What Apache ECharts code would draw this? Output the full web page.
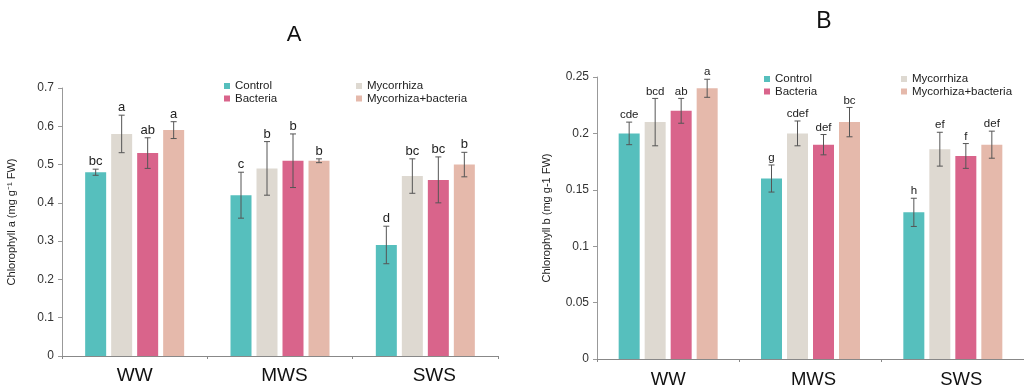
<!DOCTYPE html>
<html>
<head>
<meta charset="utf-8">
<script src="https://cdn.jsdelivr.net/npm/echarts@6/dist/echarts.min.js"></script>
<style>html,body{margin:0;padding:0;background:#fff;}#c{width:1024px;height:389px;}</style>
</head>
<body>
<div id="c"></div>
<script>
const categories = ['WW', 'MWS', 'SWS'];
const seriesNames = ['Control', 'Mycorrhiza', 'Bacteria', 'Mycorhiza+bacteria'];
const colors = ['#56bfbd', '#ded9d1', '#d9648b', '#e5b9ab'];

// Chart A: Chlorophyll a
const aControl = [0.48, 0.42, 0.29];
const aMyco = [0.58, 0.49, 0.47];
const aBact = [0.53, 0.51, 0.46];
const aMycoBact = [0.59, 0.51, 0.50];
const aControlErr = [0.008, 0.06, 0.049];
const aMycoErr = [0.049, 0.07, 0.045];
const aBactErr = [0.04, 0.07, 0.06];
const aMycoBactErr = [0.022, 0.005, 0.032];
const aControlLbl = ['bc', 'c', 'd'];
const aMycoLbl = ['a', 'b', 'bc'];
const aBactLbl = ['ab', 'b', 'bc'];
const aMycoBactLbl = ['a', 'b', 'b'];
const aTicks = ['0', '0.1', '0.2', '0.3', '0.4', '0.5', '0.6', '0.7'];

// Chart B: Chlorophyll b
const bControl = [0.20, 0.16, 0.13];
const bMyco = [0.21, 0.20, 0.186];
const bBact = [0.22, 0.19, 0.18];
const bMycoBact = [0.24, 0.21, 0.19];
const bControlErr = [0.010, 0.012, 0.0125];
const bMycoErr = [0.021, 0.011, 0.015];
const bBactErr = [0.011, 0.009, 0.011];
const bMycoBactErr = [0.008, 0.013, 0.012];
const bControlLbl = ['cde', 'g', 'h'];
const bMycoLbl = ['bcd', 'cdef', 'ef'];
const bBactLbl = ['ab', 'def', 'f'];
const bMycoBactLbl = ['a', 'bc', 'def'];
const bTicks = ['0', '0.05', '0.1', '0.15', '0.2', '0.25'];

const FONT = '"Liberation Sans", Arial, sans-serif';
const BW = 21, GAP = 5;

function barSeries(name, vals, idx, ax) {
  return {
    name: name, type: 'bar', xAxisIndex: ax, yAxisIndex: ax,
    data: vals, barWidth: BW, barGap: (GAP / BW * 100) + '%',
    itemStyle: { color: colors[idx] }, z: 2
  };
}
function errSeries(vals, errs, lbls, idx, ax, fs) {
  return {
    type: 'custom', xAxisIndex: ax, yAxisIndex: ax, z: 10,
    data: vals.map((v, i) => [i, v, errs[i]]),
    renderItem: function (params, api) {
      const i = api.value(0), v = api.value(1), e = api.value(2);
      const c = api.coord([i, v]);
      const x = c[0] + (idx - 1.5) * (BW + GAP);
      const yt = api.coord([i, v + e])[1];
      const yb = api.coord([i, v - e])[1];
      const st = { stroke: '#555', lineWidth: 1 };
      return {
        type: 'group', children: [
          { type: 'line', shape: { x1: x, y1: yt, x2: x, y2: yb }, style: st },
          { type: 'line', shape: { x1: x - 3, y1: yt, x2: x + 3, y2: yt }, style: st },
          { type: 'line', shape: { x1: x - 3, y1: yb, x2: x + 3, y2: yb }, style: st },
          { type: 'text', x: x, y: yt - 1, style: { text: lbls[params.dataIndex], fill: '#222', font: fs + 'px ' + FONT, textAlign: 'center', textVerticalAlign: 'bottom' } }
        ]
      };
    }
  };
}
function legend(names, left, top) {
  return {
    data: names, orient: 'vertical', left: left, top: top,
    icon: 'rect', itemWidth: 6, itemHeight: 6, itemGap: 0.5, padding: 0,
    textStyle: { fontSize: 11.5, color: '#222', fontFamily: FONT, lineHeight: 12 }
  };
}
function xAxis(grid, fs, margin, shifts) {
  const rich = {};
  categories.forEach((c, i) => {
    rich['c' + i] = { fontSize: fs, color: '#111', fontFamily: FONT, padding: [0, 0, 0, shifts[i] * 2] };
  });
  return {
    type: 'category', gridIndex: grid, data: categories,
    axisLine: { lineStyle: { color: '#888' } },
    axisTick: { show: true, length: 3, lineStyle: { color: '#888' } },
    axisLabel: {
      fontSize: fs, color: '#111', fontFamily: FONT, margin: margin, rich: rich,
      formatter: function (v, i) { return '{c' + i + '|' + v + '}'; }
    }
  };
}
function yAxis(grid, max, interval, ticks, name) {
  return {
    type: 'value', gridIndex: grid, min: 0, max: max, interval: interval,
    name: name, nameLocation: 'middle', nameGap: 45,
    nameTextStyle: { fontSize: 11, color: '#222', fontFamily: FONT },
    splitLine: { show: false },
    axisLine: { show: true, lineStyle: { color: '#999' } },
    axisTick: { show: true, length: 4, lineStyle: { color: '#999' } },
    axisLabel: {
      fontSize: 12, color: '#333', fontFamily: FONT, margin: 8,
      formatter: function (v) { return ticks[Math.round(v / interval)]; }
    }
  };
}

const chart = echarts.init(document.getElementById('c'), null, { renderer: 'canvas' });
chart.setOption({
  animation: false,
  backgroundColor: '#fff',
  graphic: [
    { type: 'text', x: 294, y: 35, style: { text: 'A', font: '22px ' + FONT, fill: '#111', textAlign: 'center', textVerticalAlign: 'middle' } },
    { type: 'text', x: 824, y: 22, style: { text: 'B', font: '23px ' + FONT, fill: '#111', textAlign: 'center', textVerticalAlign: 'middle' } }
  ],
  legend: [
    legend(['Control', 'Bacteria'], 224, 80),
    legend(['Mycorrhiza', 'Mycorhiza+bacteria'], 356, 80),
    legend(['Control', 'Bacteria'], 764, 73),
    legend(['Mycorrhiza', 'Mycorhiza+bacteria'], 901, 73)
  ],
  grid: [
    { left: 62, top: 88, width: 436, bottom: 33 },
    { left: 597, top: 77, width: 436, bottom: 24 }
  ],
  xAxis: [xAxis(0, 19, 10, [0, 4.5, 9]), xAxis(1, 18.5, 11, [0, 3, 8.5])],
  yAxis: [
    yAxis(0, 0.7, 0.1, aTicks, 'Chlorophyll a (mg g\u207B\u00B9 FW)'),
    yAxis(1, 0.25, 0.05, bTicks, 'Chlorophyll b (mg g-1 FW)')
  ],
  series: [
    barSeries(seriesNames[0], aControl, 0, 0),
    barSeries(seriesNames[1], aMyco, 1, 0),
    barSeries(seriesNames[2], aBact, 2, 0),
    barSeries(seriesNames[3], aMycoBact, 3, 0),
    errSeries(aControl, aControlErr, aControlLbl, 0, 0, 13),
    errSeries(aMyco, aMycoErr, aMycoLbl, 1, 0, 13),
    errSeries(aBact, aBactErr, aBactLbl, 2, 0, 13),
    errSeries(aMycoBact, aMycoBactErr, aMycoBactLbl, 3, 0, 13),
    barSeries(seriesNames[0], bControl, 0, 1),
    barSeries(seriesNames[1], bMyco, 1, 1),
    barSeries(seriesNames[2], bBact, 2, 1),
    barSeries(seriesNames[3], bMycoBact, 3, 1),
    errSeries(bControl, bControlErr, bControlLbl, 0, 1, 11.5),
    errSeries(bMyco, bMycoErr, bMycoLbl, 1, 1, 11.5),
    errSeries(bBact, bBactErr, bBactLbl, 2, 1, 11.5),
    errSeries(bMycoBact, bMycoBactErr, bMycoBactLbl, 3, 1, 11.5)
  ]
});
</script>
</body>
</html>
